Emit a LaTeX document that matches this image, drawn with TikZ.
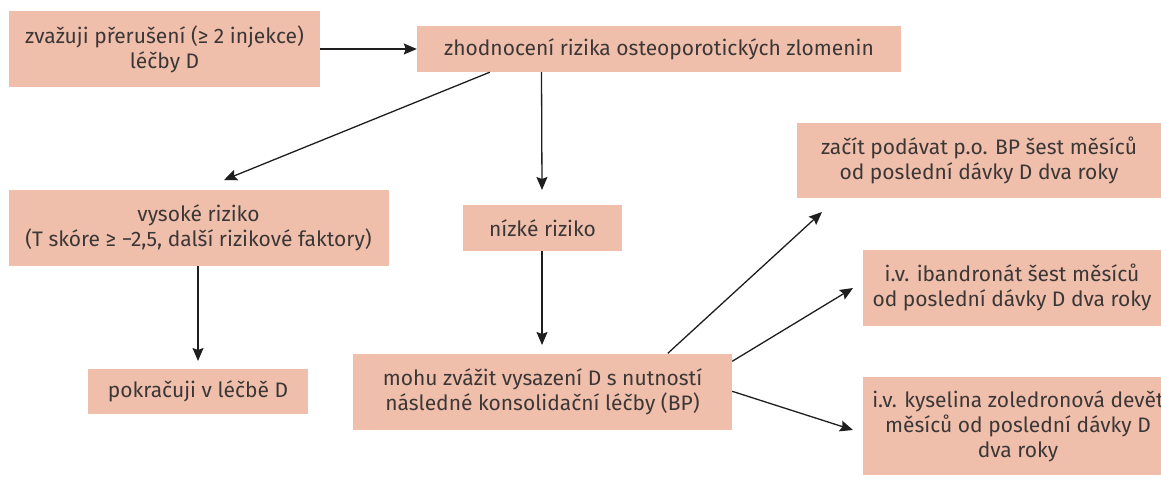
\documentclass[tikz,border=0pt]{standalone}
\usepackage{fontspec}
\setmainfont{Fira Sans}
\usetikzlibrary{arrows.meta}
\definecolor{boxfill}{RGB}{240,191,171}
\definecolor{txt}{RGB}{60,55,55}
\definecolor{ln}{RGB}{30,30,30}
\begin{document}
\begin{tikzpicture}[x=1pt,y=-1pt,
  box/.style={fill=boxfill,draw=none,inner sep=0pt,align=center,text=txt,
    font=\fontsize{21}{25}\selectfont},
  arr/.style={draw=ln,line width=1.3pt,-{Stealth[length=13pt,width=11pt,inset=2pt]}}]
\useasboundingbox (0,0) rectangle (1161,477);
\node[box,minimum width=311pt,minimum height=76pt] (b1) at (164.5,49) {zvažuji přerušení (≥ 2 injekce)\\léčby D};
\node[box,minimum width=484pt,minimum height=46pt] (b2) at (659,49) {zhodnocení rizika osteoporotických zlomenin};
\node[box,minimum width=380pt,minimum height=76pt] (b3) at (198.5,228) {vysoké riziko\\(T skóre ≥ −2,5, další rizikové faktory)};
\node[box,minimum width=159pt,minimum height=46pt] (b4) at (542.5,228) {nízké riziko};
\node[box,minimum width=220pt,minimum height=45pt] (b5) at (198,391.5) {pokračuji v léčbě D};
\node[box,minimum width=379pt,minimum height=76pt] (b6) at (542.5,391.5) {mohu zvážit vysazení D s nutností\\následné konsolidační léčby (BP)};
\node[box,minimum width=364pt,minimum height=75pt] (b7) at (979,160.5) {začít podávat p.o. BP šest měsíců\\od poslední dávky D dva roky};
\node[box,minimum width=298pt,minimum height=76pt] (b8) at (1012,287.5) {i.v. ibandronát šest měsíců\\od poslední dávky D dva roky};
\node[box,minimum width=310pt,minimum height=98pt] (b9) at (1018,426) {i.v. kyselina zoledronová devět\\měsíců od poslední dávky D\\dva roky};
\coordinate (t3) at (224,180);
\coordinate (t4) at (542,190);
\coordinate (t5) at (198,361);
\coordinate (t6) at (542,345);
\coordinate (t7) at (822,212);
\coordinate (t8) at (853,288);
\coordinate (t9) at (853,430);
\draw[arr] (b1.east) -- (b2.west);
\draw[arr] ([xshift=73pt]b2.south west) -- (t3);
\draw[arr] ([xshift=-0.5pt]b2.south -| t4) -- (t4);
\draw[arr] (b3.south -| t5) -- (t5);
\draw[arr] (b4.south -| t6) -- (t6);
\draw[arr] ([xshift=315pt]b6.north west) -- (t7);
\draw[arr] ([yshift=-8pt]b6.north east) -- (t8);
\draw[arr] ([yshift=-38pt]b6.north east) -- (t9);
\end{tikzpicture}
\end{document}
